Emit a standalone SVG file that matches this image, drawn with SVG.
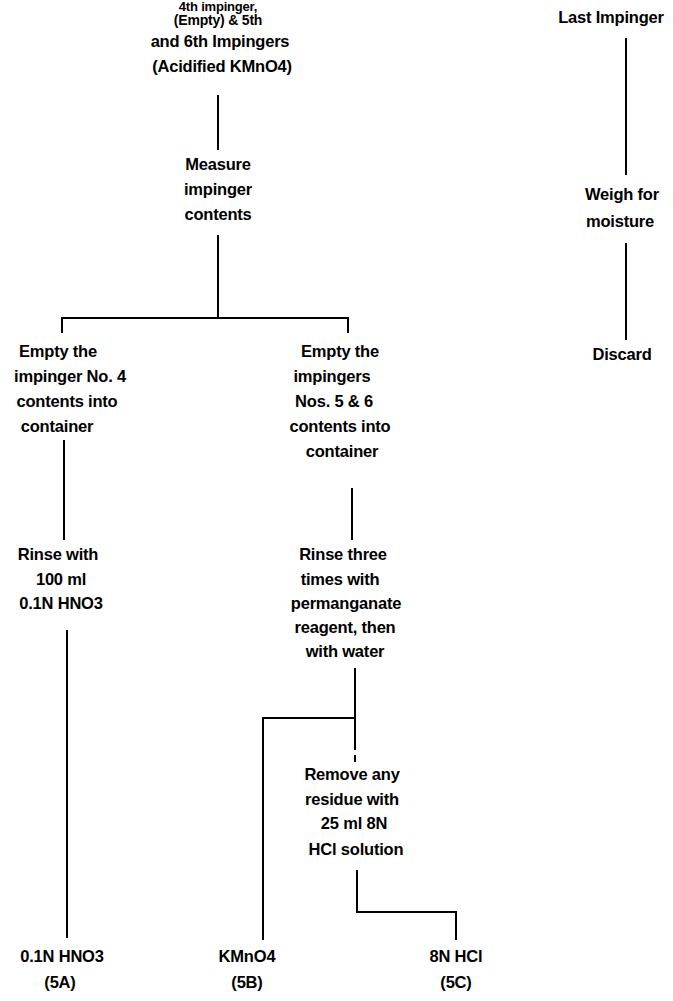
<svg xmlns="http://www.w3.org/2000/svg" width="673" height="1001" viewBox="0 0 673 1001">
<style>
text{font-family:"Liberation Sans",Arial,sans-serif;font-weight:bold;font-size:16.5px;fill:#000;text-anchor:middle;letter-spacing:-0.2px}
.c line,.c polyline{stroke:#000;stroke-width:2;fill:none}
</style>
<rect width="673" height="1001" fill="#fff"/>
<g class="c" id="connectors">
<line x1="218" y1="95" x2="218" y2="150"/>
<line x1="218" y1="235" x2="218" y2="318"/>
<polyline points="62,333 62,318 348,318 348,333"/>
<line x1="64" y1="440" x2="64" y2="540"/>
<line x1="352" y1="488" x2="352" y2="540"/>
<line x1="67" y1="630" x2="67" y2="938"/>
<line x1="355" y1="668" x2="355" y2="750"/>
<line x1="355" y1="755" x2="355" y2="762"/>
<polyline points="355,718 263,718 263,940"/>
<polyline points="357,870 357,912 456,912 456,940"/>
<line x1="626" y1="38" x2="626" y2="175"/>
<line x1="626" y1="243" x2="626" y2="340"/>
</g>
<g id="n-top">
<text x="218" y="11" style="font-size:13px">4th impinger,</text>
<text x="218" y="25" style="font-size:14px">(Empty) &amp; 5th</text>
<text x="220" y="47">and 6th Impingers</text>
<text x="222" y="72">(Acidified KMnO4)</text>
</g>
<g id="n-measure">
<text x="218" y="170">Measure</text>
<text x="218" y="195">impinger</text>
<text x="218" y="220">contents</text>
</g>
<g id="n-empty4">
<text x="58" y="357">Empty the</text>
<text x="70" y="382">impinger No. 4</text>
<text x="67" y="407">contents into</text>
<text x="57" y="432">container</text>
</g>
<g id="n-empty56">
<text x="340" y="357">Empty the</text>
<text x="332" y="382">impingers</text>
<text x="334" y="407">Nos. 5 &amp; 6</text>
<text x="340" y="432">contents into</text>
<text x="342" y="457">container</text>
</g>
<g id="n-rinse1">
<text x="58" y="560">Rinse with</text>
<text x="61" y="585">100 ml</text>
<text x="61" y="609">0.1N HNO3</text>
</g>
<g id="n-rinse2">
<text x="343" y="560">Rinse three</text>
<text x="340" y="585">times with</text>
<text x="346" y="609">permanganate</text>
<text x="345" y="633">reagent, then</text>
<text x="345" y="657">with water</text>
</g>
<g id="n-remove">
<text x="352" y="780">Remove any</text>
<text x="352" y="805">residue with</text>
<text x="354" y="829">25 ml 8N</text>
<text x="356" y="855">HCl solution</text>
</g>
<g id="n-5a">
<text x="62" y="962">0.1N HNO3</text>
<text x="60" y="988">(5A)</text>
</g>
<g id="n-5b">
<text x="247" y="962">KMnO4</text>
<text x="247" y="988">(5B)</text>
</g>
<g id="n-5c">
<text x="456" y="962">8N HCl</text>
<text x="456" y="988">(5C)</text>
</g>
<g id="n-last">
<text x="611" y="23">Last Impinger</text>
</g>
<g id="n-weigh">
<text x="622" y="200">Weigh for</text>
<text x="620" y="227">moisture</text>
</g>
<g id="n-discard">
<text x="622" y="360">Discard</text>
</g>
</svg>
